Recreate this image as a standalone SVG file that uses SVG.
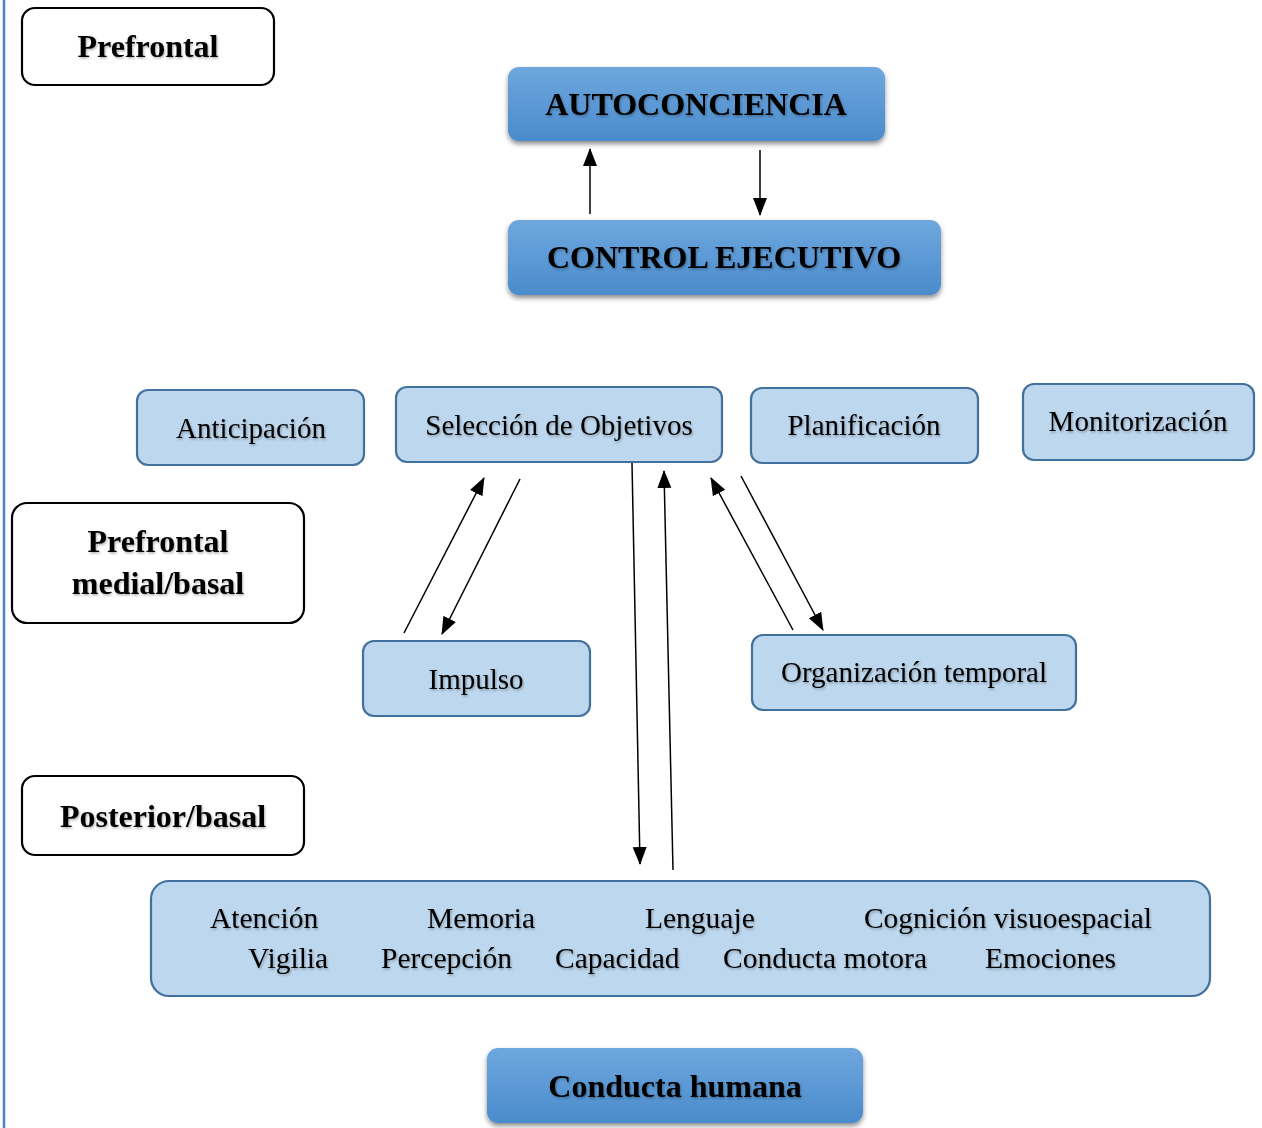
<svg xmlns="http://www.w3.org/2000/svg" width="1262" height="1128" viewBox="0 0 1262 1128">
<style>
.lab{fill:#fff;stroke:#000;stroke-width:2.2}
.lt{fill:#bdd7ee;stroke:#41719c;stroke-width:2.2}
.dk{fill:url(#g);filter:url(#sh)}
.tb{font-family:"Liberation Serif",serif;font-weight:bold;font-size:32px;fill:#000;text-anchor:middle;filter:url(#ts)}
.tn{font-family:"Liberation Serif",serif;font-size:29px;fill:#000;text-anchor:middle;filter:url(#ts)}
.ts{font-family:"Liberation Serif",serif;font-size:29.5px;fill:#000;filter:url(#ts)}
.c{stroke:#000;stroke-width:1.5;fill:none;marker-end:url(#a)}
</style>
<defs>
<linearGradient id="g" x1="0" y1="0" x2="0" y2="1">
<stop offset="0" stop-color="#6ea7de"/>
<stop offset="1" stop-color="#4a8bcc"/>
</linearGradient>
<filter id="sh" x="-10%" y="-20%" width="120%" height="150%">
<feDropShadow dx="0" dy="3" stdDeviation="2.5" flood-color="#000" flood-opacity="0.45"/>
</filter>
<filter id="ts" x="-5%" y="-20%" width="110%" height="150%">
<feDropShadow dx="1" dy="1.5" stdDeviation="1" flood-color="#000" flood-opacity="0.3"/>
</filter>
<marker id="a" markerWidth="18" markerHeight="16" refX="17" refY="8" orient="auto" markerUnits="userSpaceOnUse">
<path d="M0,1 L18,8 L0,15 Z" fill="#000"/>
</marker>
</defs>
<rect width="1262" height="1128" fill="#fff"/>
<line x1="4" y1="0" x2="4" y2="1128" stroke="#4f81bd" stroke-width="2.5"/>

<g id="connectors">
<line class="c" x1="590" y1="214" x2="590" y2="149"/>
<line class="c" x1="760" y1="150" x2="760" y2="215"/>
<line class="c" x1="404" y1="633" x2="484" y2="478"/>
<line class="c" x1="520" y1="479" x2="442" y2="634"/>
<line class="c" x1="632" y1="463" x2="640" y2="864"/>
<line class="c" x1="673" y1="870" x2="664" y2="471"/>
<line class="c" x1="793" y1="630" x2="711" y2="478"/>
<line class="c" x1="741" y1="476" x2="823" y2="630"/>
</g>

<g id="prefrontal">
<rect class="lab" x="22" y="8" width="252" height="77" rx="13"/>
<text class="tb" x="148" y="57">Prefrontal</text>
</g>
<g id="autoconciencia">
<rect class="dk" x="508" y="67" width="377" height="74" rx="11"/>
<text class="tb" x="696" y="115" font-size="31">AUTOCONCIENCIA</text>
</g>
<g id="control-ejecutivo">
<rect class="dk" x="508" y="220" width="433" height="75" rx="11"/>
<text class="tb" x="724" y="268">CONTROL EJECUTIVO</text>
</g>
<g id="anticipacion">
<rect class="lt" x="137" y="390" width="227" height="75" rx="11"/>
<text class="tn" x="251" y="438">Anticipación</text>
</g>
<g id="seleccion">
<rect class="lt" x="396" y="387" width="326" height="75" rx="11"/>
<text class="tn" x="559" y="435">Selección de Objetivos</text>
</g>
<g id="planificacion">
<rect class="lt" x="751" y="388" width="227" height="75" rx="11"/>
<text class="tn" x="864" y="435">Planificación</text>
</g>
<g id="monitorizacion">
<rect class="lt" x="1023" y="384" width="231" height="76" rx="11"/>
<text class="tn" x="1138" y="431">Monitorización</text>
</g>
<g id="prefrontal-medial">
<rect class="lab" x="12" y="503" width="292" height="120" rx="15"/>
<text class="tb" x="158" y="552">Prefrontal</text>
<text class="tb" x="158" y="594">medial/basal</text>
</g>
<g id="impulso">
<rect class="lt" x="363" y="641" width="227" height="75" rx="11"/>
<text class="tn" x="476" y="689">Impulso</text>
</g>
<g id="organizacion">
<rect class="lt" x="752" y="635" width="324" height="75" rx="11"/>
<text class="tn" x="914" y="682">Organización temporal</text>
</g>
<g id="posterior">
<rect class="lab" x="22" y="776" width="282" height="79" rx="13"/>
<text class="tb" x="163" y="827">Posterior/basal</text>
</g>
<g id="funciones">
<rect class="lt" x="151" y="881" width="1059" height="115" rx="18"/>
<text class="ts" x="210" y="928">Atención</text>
<text class="ts" x="427" y="928">Memoria</text>
<text class="ts" x="645" y="928">Lenguaje</text>
<text class="ts" x="864" y="928" textLength="288" lengthAdjust="spacingAndGlyphs">Cognición visuoespacial</text>
<text class="ts" x="248" y="968">Vigilia</text>
<text class="ts" x="381" y="968">Percepción</text>
<text class="ts" x="555" y="968">Capacidad</text>
<text class="ts" x="723" y="968">Conducta motora</text>
<text class="ts" x="985" y="968">Emociones</text>
</g>
<g id="conducta-humana">
<rect class="dk" x="487" y="1048" width="376" height="75" rx="11"/>
<text class="tb" x="675" y="1097">Conducta humana</text>
</g>
</svg>
